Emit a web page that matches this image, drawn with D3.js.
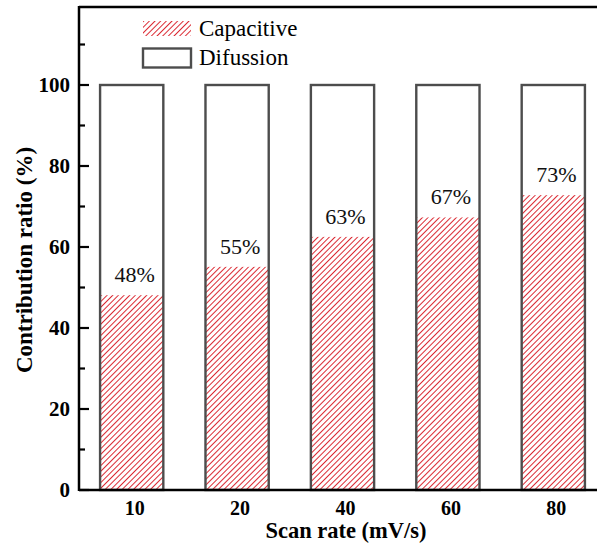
<!DOCTYPE html>
<html><head><meta charset="utf-8">
<script src="https://cdn.jsdelivr.net/npm/d3@7"></script>
<style>body{margin:0;background:#fff;overflow:hidden}</style>
</head><body>
<svg id="c" width="597" height="552"></svg>
<script>
const categories = ["10","20","40","60","80"];
const capacitive = [48.1, 55.1, 62.5, 67.3, 72.8];
const percentLabels = ["48%","55%","63%","67%","73%"];
const yTicks = [0,20,40,60,80,100];
const legendNames = ["Capacitive","Difussion"];

const FF = '"Liberation Serif", "Times New Roman", serif';
const svg = d3.select("#c");
const x0 = 79, x1 = 606, yTop = 7, yBot = 490;
const x = d3.scaleBand().domain(categories).range([x0, x1]).paddingInner(0.4).paddingOuter(0.2);
const y = d3.scaleLinear().domain([0, 100]).range([yBot, yBot - 405]);

const defs = svg.append("defs");
const pat = defs.append("pattern").attr("id","hatch").attr("patternUnits","userSpaceOnUse")
  .attr("width",4).attr("height",4).attr("patternTransform","rotate(45)");
pat.append("rect").attr("width",4).attr("height",4).attr("fill","#fff");
pat.append("line").attr("x1",0).attr("y1",0).attr("x2",0).attr("y2",4)
  .attr("stroke","#db2a33").attr("stroke-width",2);

// bars
const g = svg.append("g");
g.selectAll("rect.cap").data(categories).join("rect")
  .attr("x", d => x(d)).attr("y", (d,i) => y(capacitive[i]))
  .attr("width", x.bandwidth()).attr("height", (d,i) => y(0) - y(capacitive[i]))
  .attr("fill","url(#hatch)");
g.selectAll("rect.out").data(categories).join("rect")
  .attr("x", d => x(d)).attr("y", y(100))
  .attr("width", x.bandwidth()).attr("height", y(0) - y(100))
  .attr("fill","none").attr("stroke","#4d4d4d").attr("stroke-width",2.4);

g.selectAll("text.pl").data(categories).join("text")
  .attr("x", d => x(d) + x.bandwidth()/2 + 3)
  .attr("y", (d,i) => y(capacitive[i]) - 13)
  .attr("text-anchor","middle").style("font-family",FF).style("font-size","22px")
  .attr("fill","#111")
  .text((d,i) => percentLabels[i]);

// axes frame
svg.append("line").attr("x1",x0).attr("x2",597).attr("y1",yTop).attr("y2",yTop)
  .attr("stroke","#000").attr("stroke-width",2.5);
svg.append("line").attr("x1",x0).attr("x2",597).attr("y1",yBot).attr("y2",yBot)
  .attr("stroke","#000").attr("stroke-width",2.5);
svg.append("line").attr("x1",x0).attr("x2",x0).attr("y1",yTop-1).attr("y2",yBot+1)
  .attr("stroke","#000").attr("stroke-width",2.5);

// y ticks
const minor = d3.range(10, 120, 20);
svg.selectAll("line.mj").data(yTicks).join("line")
  .attr("x1",x0).attr("x2",x0+10).attr("y1",d=>y(d)).attr("y2",d=>y(d))
  .attr("stroke","#000").attr("stroke-width",2.2);
svg.selectAll("line.mn").data(minor).join("line")
  .attr("x1",x0).attr("x2",x0+6).attr("y1",d=>y(d)).attr("y2",d=>y(d))
  .attr("stroke","#000").attr("stroke-width",2.2);
svg.selectAll("text.yt").data(yTicks).join("text")
  .attr("x", 70).attr("y", d => y(d) + 7)
  .attr("text-anchor","end").style("font-family",FF).style("font-weight","bold")
  .style("font-size","21px").attr("fill","#000").text(d => d);

// x tick labels
svg.selectAll("text.xt").data(categories).join("text")
  .attr("x", d => x(d) + x.bandwidth()/2 + 3).attr("y", 515)
  .attr("text-anchor","middle").style("font-family",FF).style("font-weight","bold")
  .style("font-size","20px").attr("fill","#000").text(d => d);

// axis titles
svg.append("text").attr("x",346).attr("y",538).attr("text-anchor","middle")
  .style("font-family",FF).style("font-weight","bold").style("font-size","22.5px")
  .text("Scan rate (mV/s)");
svg.append("text").attr("transform","translate(32,260) rotate(-90)").attr("text-anchor","middle")
  .style("font-family",FF).style("font-weight","bold").style("font-size","23px")
  .text("Contribution ratio (%)");

// legend
const lg = svg.append("g");
lg.append("rect").attr("x",143).attr("y",21).attr("width",48).attr("height",15).attr("fill","url(#hatch)");
lg.append("rect").attr("x",143).attr("y",48.5).attr("width",48).attr("height",19)
  .attr("fill","#fff").attr("stroke","#4d4d4d").attr("stroke-width",2.4);
lg.selectAll("text").data(legendNames).join("text")
  .attr("x",199).attr("y",(d,i)=> 36 + i*29)
  .style("font-family",FF).style("font-size","23px").attr("fill","#000").text(d=>d);
</script>
</body></html>
